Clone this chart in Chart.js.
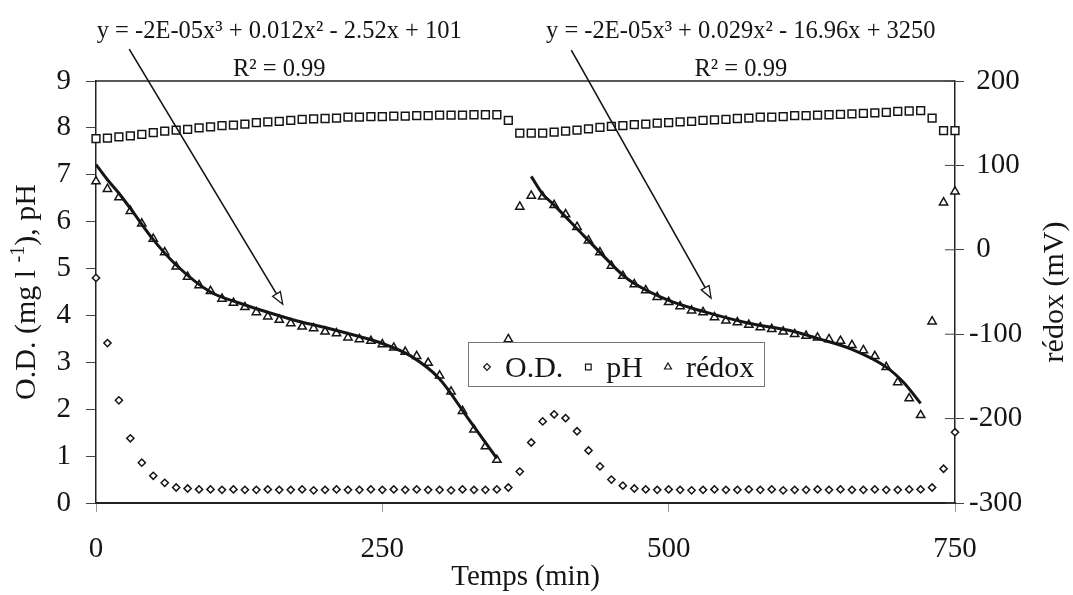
<!DOCTYPE html>
<html>
<head>
<meta charset="utf-8">
<script src="https://cdn.jsdelivr.net/npm/chart.js@4.4.1/dist/chart.umd.min.js"></script>
<style>
    html, body { margin: 0; padding: 0; background: #fff; }
    canvas { display: block; }
</style>
</head>
<body>
<canvas id="chart" width="1073" height="595"></canvas>
<script>
// sampling times (min)
var times = [0, 10, 20, 30, 40, 50, 60, 70, 80, 90,
             100, 110, 120, 130, 140, 150, 160, 170, 180, 190,
             200, 210, 220, 230, 240, 250, 260, 270, 280, 290,
             300, 310, 320, 330, 340, 350, 360, 370, 380, 390,
             400, 410, 420, 430, 440, 450, 460, 470, 480, 490,
             500, 510, 520, 530, 540, 550, 560, 570, 580, 590,
             600, 610, 620, 630, 640, 650, 660, 670, 680, 690,
             700, 710, 720, 730, 740, 750];

// O.D. (mg/l) - left axis
var odValues = [4.80, 3.41, 2.19, 1.38, 0.86, 0.58, 0.43, 0.33, 0.31, 0.29,
                0.29, 0.28, 0.29, 0.28, 0.28, 0.29, 0.28, 0.28, 0.29, 0.27,
                0.28, 0.29, 0.28, 0.28, 0.29, 0.28, 0.29, 0.28, 0.29, 0.28,
                0.28, 0.27, 0.29, 0.28, 0.28, 0.29, 0.33, 0.67, 1.29, 1.74,
                1.89, 1.81, 1.53, 1.12, 0.78, 0.50, 0.37, 0.31, 0.29, 0.28,
                0.29, 0.28, 0.27, 0.28, 0.29, 0.28, 0.28, 0.29, 0.28, 0.29,
                0.27, 0.28, 0.28, 0.29, 0.28, 0.29, 0.28, 0.28, 0.29, 0.28,
                0.28, 0.29, 0.29, 0.33, 0.73, 1.51];

// pH - left axis
var phValues = [7.77, 7.78, 7.81, 7.83, 7.86, 7.90, 7.93, 7.95, 7.97, 8.00,
                8.02, 8.05, 8.06, 8.08, 8.11, 8.13, 8.14, 8.16, 8.18, 8.19,
                8.20, 8.21, 8.23, 8.23, 8.24, 8.24, 8.25, 8.25, 8.26, 8.26,
                8.27, 8.27, 8.27, 8.28, 8.28, 8.28, 8.16, 7.89, 7.89, 7.89,
                7.91, 7.93, 7.95, 7.98, 8.01, 8.03, 8.05, 8.07, 8.08, 8.10,
                8.11, 8.13, 8.14, 8.16, 8.17, 8.18, 8.20, 8.21, 8.23, 8.23,
                8.24, 8.26, 8.26, 8.27, 8.28, 8.29, 8.30, 8.31, 8.32, 8.33,
                8.35, 8.36, 8.37, 8.21, 7.94, 7.94];

// redox (mV) - right axis
var redoxValues = [81, 72, 62, 46, 31, 13, -3, -20, -32, -42,
                   -49, -58, -63, -68, -74, -79, -83, -87, -91, -93,
                   -97, -99, -104, -106, -108, -112, -116, -121, -126, -134,
                   -149, -168, -191, -213, -233, -249, -106, 51, 64, 63,
                   53, 42, 27, 11, -3, -19, -31, -41, -48, -56,
                   -62, -67, -72, -74, -80, -84, -86, -89, -92, -94,
                   -97, -100, -102, -104, -106, -108, -113, -119, -126, -139,
                   -157, -176, -196, -85, 56, 69];

// polynomial trend curves (mV)
var fit1Times = [0, 10, 20, 30, 50, 70, 100, 125, 150, 175, 200, 225, 250, 275, 300, 325, 350];
var fit1Values = [101, 83, 67, 49, 12, -18, -50, -63, -74, -84, -92, -101, -111, -126, -153, -200, -247];
var fit2Times = [380, 390, 400, 420, 440, 460, 470, 500, 530, 570, 610, 630, 660, 690, 705, 720];
var fit2Values = [87, 66, 53, 25, -3, -30, -40, -60, -73, -87, -97, -105, -118, -139, -157, -182];

var seriesLabels = ["O.D.", "pH", "rédox"];
var equation1 = "y = -2E-05x³ + 0.012x² - 2.52x + 101";
var equation2 = "y = -2E-05x³ + 0.029x² - 16.96x + 3250";
var r2Text = "R² = 0.99";

var fontFamily = "'Liberation Serif', 'Times New Roman', serif";
var ink = "#151515";

// arrows from the equations down to the curves, in data units (min, left axis)
var arrows = [
    { from: [29, 9.68], to: [163, 4.24] },
    { from: [415, 9.66], to: [537, 4.37] }
];
var equationSpots = [
    { text: equation1, at: 160 },
    { text: equation2, at: 563 }
];

function makePoints(xs, ys) {
    var pts = [];
    for (var i = 0; i < xs.length; i++) {
        pts.push({ x: xs[i], y: ys[i] });
    }
    return pts;
}

function markerSet(label, values, style, radius, axis) {
    return {
        label: label,
        data: makePoints(times, values),
        yAxisID: axis,
        pointStyle: style,
        pointRadius: radius,
        pointHoverRadius: radius,
        borderWidth: 1.5,
        borderColor: ink,
        backgroundColor: "#fff",
        clip: false,
        order: 1
    };
}

function fitSet(xs, ys) {
    return {
        type: "line",
        data: makePoints(xs, ys),
        yAxisID: "y2",
        borderColor: ink,
        borderWidth: 3,
        pointRadius: 0,
        fill: false,
        cubicInterpolationMode: "monotone",
        order: 0
    };
}

function drawArrow(ctx, x1, y1, x2, y2) {
    var ang = Math.atan2(y2 - y1, x2 - x1);
    var len = 12, half = 4.5;
    var bx = x2 - Math.cos(ang) * len;
    var by = y2 - Math.sin(ang) * len;
    ctx.lineWidth = 1.6;
    ctx.strokeStyle = ink;
    ctx.beginPath();
    ctx.moveTo(x1, y1);
    ctx.lineTo(bx, by);
    ctx.stroke();
    ctx.beginPath();
    ctx.moveTo(x2, y2);
    ctx.lineTo(bx + Math.sin(ang) * half, by - Math.cos(ang) * half);
    ctx.lineTo(bx - Math.sin(ang) * half, by + Math.cos(ang) * half);
    ctx.closePath();
    ctx.fillStyle = "#fff";
    ctx.fill();
    ctx.lineWidth = 1.3;
    ctx.stroke();
}

function drawLegend(chart) {
    var ctx = chart.ctx;
    var box = { left: 468, top: 342, width: 296, height: 44 };
    ctx.fillStyle = "#fff";
    ctx.fillRect(box.left, box.top, box.width, box.height);
    ctx.strokeStyle = "#777";
    ctx.lineWidth = 1;
    ctx.strokeRect(box.left + 0.5, box.top + 0.5, box.width, box.height);

    ctx.font = "30px " + fontFamily;
    ctx.textAlign = "left";
    ctx.textBaseline = "alphabetic";
    var cx = box.left + 19;
    var cy = box.top + 25;
    var sizes = [3.3, 4, 4];
    for (var i = 0; i < 3; i++) {
        var ds = chart.data.datasets[i + 2];
        ctx.fillStyle = "#fff";
        ctx.strokeStyle = ink;
        ctx.lineWidth = 1.2;
        Chart.helpers.drawPoint(ctx, {
            pointStyle: ds.pointStyle,
            radius: sizes[i],
            borderWidth: 1.2,
            rotation: 0
        }, cx, cy);
        ctx.fillStyle = ink;
        ctx.fillText(seriesLabels[i], cx + 18, box.top + 35);
        cx = cx + 18 + ctx.measureText(seriesLabels[i]).width + 25;
    }
}

function drawAxisTitles(chart) {
    var ctx = chart.ctx;
    var area = chart.chartArea;
    var midY = (area.top + area.bottom) / 2;
    ctx.fillStyle = ink;
    ctx.textBaseline = "alphabetic";
    ctx.textAlign = "left";

    // left title with superscript -1
    var big = "30px " + fontFamily;
    var small = "20px " + fontFamily;
    var p1 = "O.D. (mg l ", sup = "-1", p3 = "), pH";
    ctx.font = big;
    var w1 = ctx.measureText(p1).width, w3 = ctx.measureText(p3).width;
    ctx.font = small;
    var w2 = ctx.measureText(sup).width;
    var total = w1 + w2 + w3;
    ctx.save();
    ctx.translate(35, midY);
    ctx.rotate(-Math.PI / 2);
    ctx.font = big;
    ctx.fillText(p1, -total / 2, 0);
    ctx.font = small;
    ctx.fillText(sup, -total / 2 + w1, -11);
    ctx.font = big;
    ctx.fillText(p3, -total / 2 + w1 + w2, 0);
    ctx.restore();

    // right title, read from bottom to top
    ctx.save();
    ctx.translate(1063, midY);
    ctx.rotate(-Math.PI / 2);
    ctx.font = big;
    ctx.textAlign = "center";
    ctx.fillText("rédox (mV)", 0, 0);
    ctx.restore();
}

var extrasPlugin = {
    id: "extras",
    afterDraw: function (chart) {
        var ctx = chart.ctx;
        var area = chart.chartArea;
        var xs = chart.scales.x;
        var ys = chart.scales.y;
        var y2 = chart.scales.y2;

        ctx.save();
        // top line of the frame
        ctx.strokeStyle = "#222";
        ctx.lineWidth = 1.5;
        ctx.beginPath();
        ctx.moveTo(area.left, area.top);
        ctx.lineTo(area.right, area.top);
        ctx.stroke();

        // right ticks also cross into the plot
        ctx.lineWidth = 1;
        ctx.strokeStyle = "#444";
        ctx.beginPath();
        y2.ticks.forEach(function (tick) {
            var py = y2.getPixelForValue(tick.value);
            ctx.moveTo(area.right - 10, py);
            ctx.lineTo(area.right, py);
        });
        ctx.stroke();

        arrows.forEach(function (a) {
            drawArrow(ctx,
                xs.getPixelForValue(a.from[0]), ys.getPixelForValue(a.from[1]),
                xs.getPixelForValue(a.to[0]), ys.getPixelForValue(a.to[1]));
        });

        // trendline equations above the plot
        ctx.fillStyle = ink;
        ctx.font = "24.5px " + fontFamily;
        ctx.textAlign = "center";
        ctx.textBaseline = "alphabetic";
        equationSpots.forEach(function (eq) {
            var px = xs.getPixelForValue(eq.at);
            ctx.fillText(eq.text, px, area.top - 43);
            ctx.fillText(r2Text, px, area.top - 5);
        });

        drawLegend(chart);
        drawAxisTitles(chart);
        ctx.restore();
    }
};

function makeChart() {
    var tickFont = { family: fontFamily, size: 29 };
    new Chart(document.getElementById("chart"), {
        type: "scatter",
        data: {
            datasets: [
                fitSet(fit1Times, fit1Values),
                fitSet(fit2Times, fit2Values),
                markerSet(seriesLabels[0], odValues, "rectRot", 3.6, "y"),
                markerSet(seriesLabels[1], phValues, "rect", 5.5, "y"),
                markerSet(seriesLabels[2], redoxValues, "triangle", 4.8, "y2")
            ]
        },
        options: {
            responsive: false,
            animation: false,
            layout: { padding: { top: 81, left: 0, right: 0, bottom: 0 } },
            plugins: {
                legend: { display: false },
                tooltip: { enabled: false }
            },
            scales: {
                x: {
                    type: "linear",
                    min: 0,
                    max: 750,
                    ticks: { stepSize: 250, font: tickFont, color: ink, padding: 20, maxRotation: 0 },
                    grid: { drawOnChartArea: false, tickLength: 9, color: "#999", lineWidth: 1 },
                    border: { color: "#222", width: 2 },
                    title: { display: true, text: "Temps (min)", font: tickFont, color: ink, padding: 0 },
                    afterFit: function (s) { s.height = 92; }
                },
                y: {
                    position: "left",
                    min: 0,
                    max: 9,
                    ticks: { stepSize: 1, font: tickFont, color: ink, padding: 15 },
                    grid: { drawOnChartArea: false, tickLength: 10, color: "#444", lineWidth: 1 },
                    border: { color: "#222", width: 1.5 },
                    afterFit: function (s) { s.width = 96; }
                },
                y2: {
                    position: "right",
                    min: -300,
                    max: 200,
                    ticks: {
                        stepSize: 100,
                        font: tickFont,
                        color: ink,
                        padding: 5,
                        callback: function (v) { return v < 0 ? String(v) : " " + v; }
                    },
                    grid: { drawOnChartArea: false, tickLength: 9, color: "#444", lineWidth: 1 },
                    border: { color: "#222", width: 1.5 },
                    afterFit: function (s) { s.width = 118; }
                }
            }
        },
        plugins: [extrasPlugin]
    });
}

makeChart();
</script>
</body>
</html>
